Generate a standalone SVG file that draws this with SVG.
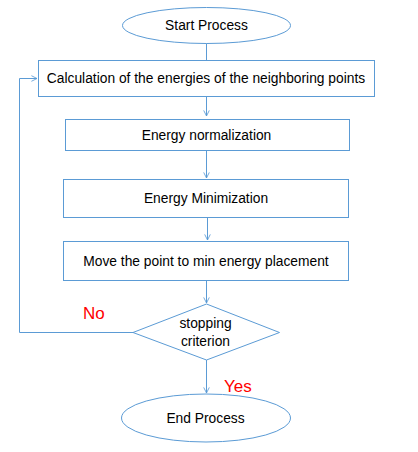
<svg xmlns="http://www.w3.org/2000/svg" width="418" height="452" viewBox="0 0 418 452">
<defs>
<marker id="arr" viewBox="0 0 10 10" refX="9" refY="5" markerWidth="7" markerHeight="7" markerUnits="userSpaceOnUse" orient="auto">
<path d="M1,1 L9,5 L1,9" fill="none" stroke="#5B9BD5" stroke-width="1.2"/>
</marker>
<style>
.s{fill:#fff;stroke:#5B9BD5;stroke-width:1}
.c{fill:none;stroke:#5B9BD5;stroke-width:1}
.t{font-family:"Liberation Sans",Arial,sans-serif;font-size:13.8px;fill:#000;text-anchor:middle}
.r{font-family:"Liberation Sans",Arial,sans-serif;font-size:17px;fill:#FF0000}
</style>
</defs>
<rect width="418" height="452" fill="#fff"/>
<g id="connectors">
<line class="c" x1="206.5" y1="43" x2="206.5" y2="60"/>
<line class="c" x1="206.5" y1="96" x2="206.5" y2="116" marker-end="url(#arr)"/>
<line class="c" x1="206.5" y1="150" x2="206.5" y2="178" marker-end="url(#arr)"/>
<line class="c" x1="207.5" y1="217" x2="207.5" y2="240" marker-end="url(#arr)"/>
<line class="c" x1="206.5" y1="280" x2="206.5" y2="303" marker-end="url(#arr)"/>
<polyline class="c" points="133,332.5 19.5,332.5 19.5,78.5 37,78.5" marker-end="url(#arr)"/>
<line class="c" x1="206.5" y1="360" x2="206.5" y2="393" marker-end="url(#arr)"/>
<text class="r" x="83" y="319">No</text>
<text class="r" x="224" y="392">Yes</text>
</g>
<g id="start">
<ellipse class="s" cx="206.5" cy="25.5" rx="84" ry="18"/>
<text class="t" x="206.5" y="30">Start Process</text>
</g>
<g id="calc">
<rect class="s" x="38.5" y="60.5" width="336" height="36"/>
<text class="t" x="206" y="83">Calculation of the energies of the neighboring points</text>
</g>
<g id="norm">
<rect class="s" x="65.5" y="119.5" width="284" height="31"/>
<text class="t" x="206.5" y="140">Energy normalization</text>
</g>
<g id="min">
<rect class="s" x="63.5" y="179.5" width="285" height="38"/>
<text class="t" x="206" y="203">Energy Minimization</text>
</g>
<g id="move">
<rect class="s" x="63.5" y="241.5" width="285" height="39"/>
<text class="t" x="206" y="266">Move the point to min energy placement</text>
</g>
<g id="decision">
<polygon class="s" points="206.5,304 279.5,332.5 206.5,360 133,332.5"/>
<text class="t" x="205.5" y="328">stopping</text>
<text class="t" x="205.5" y="346">criterion</text>
</g>
<g id="end">
<ellipse class="s" cx="206" cy="418" rx="84.5" ry="24"/>
<text class="t" x="205.5" y="423">End Process</text>
</g>
</svg>
